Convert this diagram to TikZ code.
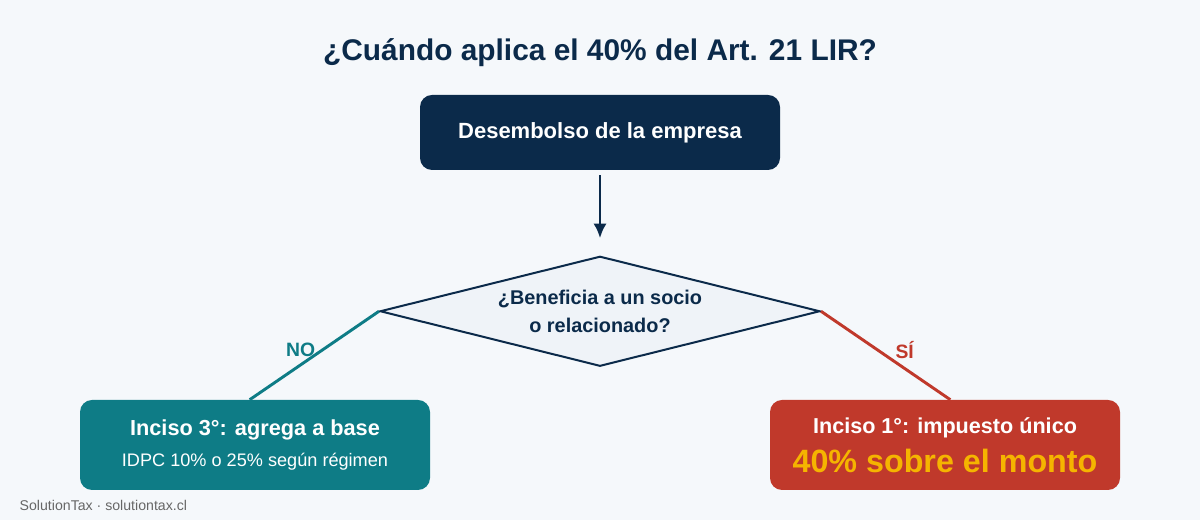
\documentclass[tikz,border=0pt]{standalone}
\usepackage{fontspec}
\setmainfont{Liberation Sans}
\usetikzlibrary{arrows.meta,positioning,calc,shapes.geometric}
\definecolor{navy}{HTML}{0B2A4A}
\definecolor{teal}{HTML}{0E7C86}
\definecolor{rojo}{HTML}{C0392B}
\definecolor{ambar}{HTML}{F5B400}
\definecolor{fondo}{HTML}{F5F8FB}
\definecolor{rombo}{HTML}{EFF3F8}
\definecolor{gris}{HTML}{666666}

\begin{document}
\begin{tikzpicture}[>={Latex[length=11pt,width=10pt]},node distance=1.0cm,x=0.75pt,y=0.75pt]
  \tikzstyle{box}=[rounded corners=9pt,minimum width=262.5pt,minimum height=67.5pt,align=center,text=white]
  \tikzstyle{rama}=[line width=2.2pt]
  \fill[fondo] (0,0) rectangle (1200,520);
  \useasboundingbox (0,0) rectangle (1200,520);
  \node[text=navy,font=\bfseries\fontsize{22.4}{26}\selectfont] (titulo) at (600,467) {¿Cuándo aplica el 40\% del Art. 21 LIR?};
  \node[box,fill=navy,minimum width=270pt,minimum height=56.25pt,font=\bfseries\fontsize{16.5}{20}\selectfont] (desem) at (600,387.5) {Desembolso de la empresa};
  \node[diamond,aspect=4,draw=navy,line width=1.5pt,fill=rombo,minimum width=330pt,minimum height=82.5pt,inner sep=0pt,align=center,text=navy,font=\bfseries\fontsize{14.9}{21}\selectfont,below=63.75pt of desem] (socio) {¿Beneficia a un socio\\o relacionado?};
  \node[box,fill=teal] (inc3) at (255,75) {{\bfseries\fontsize{16.3}{18}\selectfont Inciso 3°: agrega a base}\\[9pt]{\fontsize{13.6}{14}\selectfont IDPC 10\% o 25\% según régimen}};
  \node[box,fill=rojo] (inc1) at (945,75) {{\bfseries\fontsize{16.2}{18}\selectfont Inciso 1°: impuesto único}\\[7pt]{\bfseries\color{ambar}\fontsize{24.2}{24}\selectfont 40\% sobre el monto}};
  \draw[->,line width=2.2pt,navy,shorten <=3.75pt,shorten >=12.75pt] (desem) -- (socio);
  \draw[rama,teal] (socio.west) -- node[midway,left,xshift=5pt,yshift=4pt,font=\bfseries\fontsize{14.5}{16}\selectfont] {NO} ($(inc3.north)+(-4pt,0)$);
  \draw[rama,rojo] (socio.east) -- node[midway,right,xshift=3pt,yshift=4pt,font=\bfseries\fontsize{14.5}{16}\selectfont] {SÍ} ($(inc1.north)+(4pt,0)$);
  \node[anchor=west,text=gris,font=\fontsize{10.6}{12}\selectfont] (pie) at (15,15) {SolutionTax · solutiontax.cl};
\end{tikzpicture}
\end{document}
